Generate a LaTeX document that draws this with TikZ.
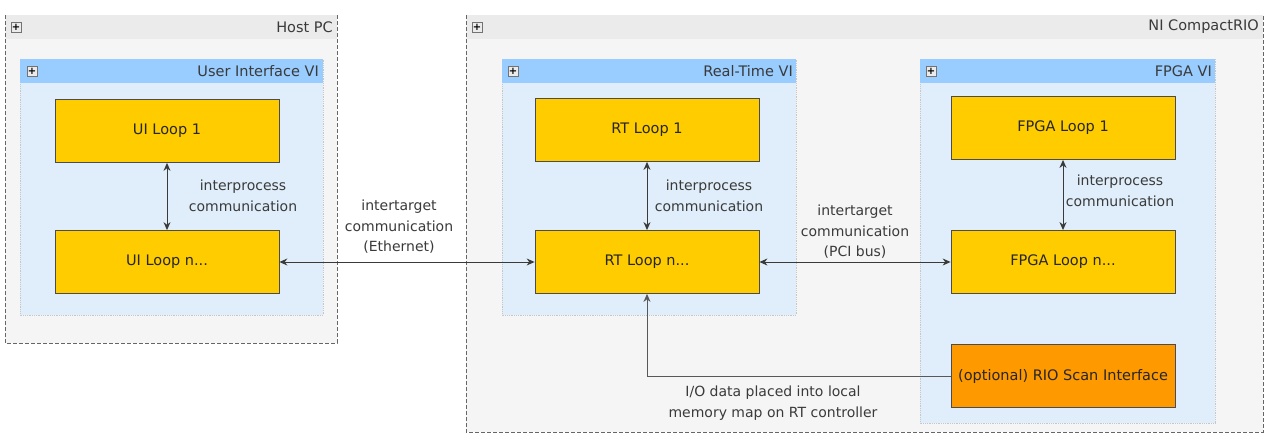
\documentclass[tikz,border=0pt]{standalone}
\usepackage{fontspec}
\setmainfont{DejaVu Sans}
\usetikzlibrary{arrows.meta}
\definecolor{loopfill}{HTML}{FFCC00}
\definecolor{scanfill}{HTML}{FF9900}
\definecolor{vibody}{HTML}{DFEEFA}
\definecolor{vititle}{HTML}{99CCFF}
\definecolor{outerfill}{HTML}{F5F5F5}
\definecolor{outertitle}{HTML}{EBEBEB}
\definecolor{txt}{HTML}{3A3A3A}
\definecolor{arr}{HTML}{3A3A3A}
\tikzset{
  outerbox/.style={draw=black!60, dash pattern=on 4pt off 2pt, fill=outerfill, line width=0.9pt},
  vibox/.style={draw=black!22, densely dotted, fill=vibody, line width=0.8pt},
  loopbox/.style={draw=black!70, fill=loopfill, line width=0.8pt, minimum width=224pt, minimum height=63pt, inner sep=0pt, font=\fontsize{14.5}{16}\selectfont, text=black!85},
  scanbox/.style={loopbox, fill=scanfill},
  plusbox/.style={draw=black!55, fill=white!92!black, minimum size=10pt, inner sep=0pt, font=\fontsize{10}{10}\selectfont\bfseries},
  titletxt/.style={anchor=east, font=\fontsize{14.5}{16}\selectfont, text=txt, inner sep=0pt},
  lbl/.style={align=center, font=\fontsize{14}{20.5}\selectfont, text=txt, inner sep=0pt},
  conn/.style={draw=arr, line width=1pt, {Stealth[length=8pt,width=7pt]}-{Stealth[length=8pt,width=7pt]}},
  conn1/.style={draw=arr!85, line width=1pt, -{Stealth[length=8pt,width=7pt]}}
}
\begin{document}
\begin{tikzpicture}[x=1pt,y=-1pt]
\useasboundingbox (0,0) rectangle (1273,446);
\fill[white] (0,0) rectangle (1273,446);
% Host PC
\draw[outerbox] (5,15) rectangle (337,343);
\fill[outertitle] (5.5,15.5) rectangle (336.5,39);
\node[plusbox] (hplus) at (16,27) {+};
\node[titletxt] (htitle) at (333,27) {Host PC};
% NI CompactRIO
\draw[outerbox] (466,15) rectangle (1263,432);
\fill[outertitle] (466.5,15.5) rectangle (1262.5,39);
\node[plusbox] (cplus) at (477,27) {+};
\node[titletxt] (ctitle) at (1259,27) {NI CompactRIO};
% User Interface VI
\draw[vibox] (20,59) rectangle (323,315);
\fill[vititle] (20,59) rectangle (323,83);
\node[plusbox] (uplus) at (32,71) {+};
\node[titletxt] (utitle) at (319,71) {User Interface VI};
% Real-Time VI
\draw[vibox] (502,59) rectangle (796,315);
\fill[vititle] (502,59) rectangle (796,83);
\node[plusbox] (rplus) at (513,71) {+};
\node[titletxt] (rtitle) at (793,71) {Real-Time VI};
% FPGA VI
\draw[vibox] (920,59) rectangle (1215,423);
\fill[vititle] (920,59) rectangle (1215,83);
\node[plusbox] (fplus) at (931,71) {+};
\node[titletxt] (ftitle) at (1212,71) {FPGA VI};
% loops
\node[loopbox] (ui1) at (167,131) {UI Loop 1};
\node[loopbox] (uin) at (167,262) {UI Loop n...};
\node[loopbox] (rt1) at (647,130) {RT Loop 1};
\node[loopbox] (rtn) at (647,262) {RT Loop n...};
\node[loopbox] (fp1) at (1063,128) {FPGA Loop 1};
\node[loopbox] (fpn) at (1063,262) {FPGA Loop n...};
\node[scanbox] (scan) at (1063,376) {(optional) RIO Scan Interface};
% connectors
\draw[conn] (ui1) -- (uin);
\draw[conn] (rt1) -- (rtn);
\draw[conn] (fp1) -- (fpn);
\draw[conn] (uin) -- (rtn);
\draw[conn] (rtn) -- (fpn);
\draw[conn1] (scan.west) -| (rtn.south);
% labels
\node[lbl] (l1) at (243,196) {interprocess\\communication};
\node[lbl] (l2) at (709,196) {interprocess\\communication};
\node[lbl] (l3) at (1120,191) {interprocess\\communication};
\node[lbl] (l4) at (399,227) {intertarget\\communication\\(Ethernet)};
\node[lbl] (l5) at (855,232) {intertarget\\communication\\(PCI bus)};
\node[lbl] (l6) at (773,403) {I/O data placed into local\\memory map on RT controller};
\end{tikzpicture}
\end{document}
